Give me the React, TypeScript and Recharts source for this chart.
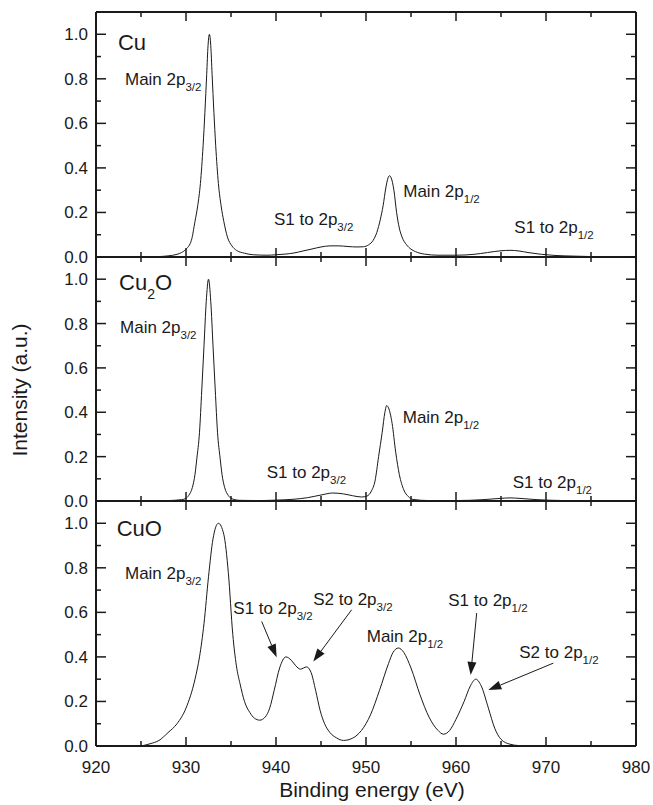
import { LineChart, Line, XAxis, YAxis, ReferenceDot, ReferenceLine } from "recharts";

const xTicks = [920, 930, 940, 950, 960, 970, 980];
const xMinor = [925, 935, 945, 955, 965, 975];
const yTicks = [0, 0.2, 0.4, 0.6, 0.8, 1.0];
const yMinor = [0.1, 0.3, 0.5, 0.7, 0.9];

// Cu
const cuEnergy = [925, 927, 928, 929, 929.5, 930, 930.6, 931, 931.3, 931.6, 931.9, 932.1, 932.3, 932.45, 932.6, 932.75, 932.9, 933.1, 933.3, 933.6, 933.9, 934.2, 934.6, 935.1, 935.6, 936.5, 937.5, 939, 940, 941, 942, 943, 944, 945, 946, 947, 948, 949, 949.7, 950.3, 950.8, 951.2, 951.6, 951.9, 952.2, 952.45, 952.6, 952.8, 953.1, 953.4, 953.7, 954, 954.5, 955, 955.5, 956.5, 958, 960, 962, 963.5, 965, 966, 967, 968, 969.5, 971, 973, 975, 976];
const cuIntensity = [0, 0.002, 0.005, 0.012, 0.02, 0.035, 0.075, 0.16, 0.23, 0.33, 0.5, 0.65, 0.82, 0.95, 1.0, 0.95, 0.82, 0.65, 0.5, 0.33, 0.23, 0.16, 0.09, 0.05, 0.03, 0.017, 0.01, 0.008, 0.01, 0.013, 0.018, 0.027, 0.036, 0.045, 0.05, 0.05, 0.047, 0.045, 0.046, 0.055, 0.075, 0.11, 0.17, 0.23, 0.31, 0.355, 0.365, 0.355, 0.3, 0.2, 0.13, 0.09, 0.055, 0.035, 0.024, 0.013, 0.008, 0.008, 0.012, 0.02, 0.028, 0.03, 0.027, 0.02, 0.012, 0.007, 0.004, 0.002, 0.001];

// Cu2O
const cu2oEnergy = [925, 928, 929.5, 929.9, 930.3, 930.7, 931, 931.2, 931.5, 931.75, 932, 932.25, 932.5, 932.75, 933, 933.25, 933.5, 933.8, 934, 934.3, 934.7, 935.1, 936, 938, 940, 942, 943.5, 945, 946.3, 947.5, 948.5, 949.5, 950.1, 950.6, 951, 951.4, 951.8, 952.1, 952.3, 952.5, 952.9, 953.3, 953.7, 954.2, 954.7, 955.2, 957, 960, 963, 965, 966, 967, 969, 972, 975];
const cu2oIntensity = [0, 0.002, 0.006, 0.01, 0.025, 0.06, 0.12, 0.19, 0.31, 0.5, 0.7, 0.9, 1.0, 0.9, 0.7, 0.5, 0.31, 0.19, 0.12, 0.06, 0.025, 0.01, 0.003, 0.002, 0.004, 0.008, 0.015, 0.027, 0.036, 0.032, 0.024, 0.018, 0.022, 0.045, 0.09, 0.2, 0.31, 0.4, 0.43, 0.42, 0.35, 0.22, 0.12, 0.05, 0.02, 0.007, 0.002, 0.002, 0.006, 0.012, 0.014, 0.012, 0.006, 0.002, 0];

// CuO
const cuoEnergy = [925, 926, 927, 928, 929, 930, 931, 931.5, 932, 932.5, 933, 933.6, 934.2, 934.7, 935.2, 935.6, 936, 936.5, 937.1, 937.6, 938.2, 938.8, 939.3, 939.8, 940.4, 941.1, 941.7, 942.2, 942.7, 943.4, 943.9, 944.4, 944.9, 945.4, 946, 946.7, 947.5, 948.5, 949.5, 950.5, 951.5, 952.5, 953, 953.6, 954.2, 955, 956, 957, 958, 958.6, 959.3, 960, 960.9, 961.6, 962.2, 962.8, 963.6, 964.3, 965, 966, 967, 970, 975];
const cuoIntensity = [0, 0.01, 0.025, 0.06, 0.1, 0.17, 0.3, 0.4, 0.55, 0.76, 0.93, 1.0, 0.95, 0.78, 0.5, 0.36, 0.28, 0.2, 0.15, 0.125, 0.116, 0.13, 0.17, 0.25, 0.35, 0.4, 0.385, 0.36, 0.345, 0.355, 0.33, 0.25, 0.16, 0.1, 0.06, 0.037, 0.025, 0.035, 0.07, 0.14, 0.25, 0.37, 0.42, 0.44, 0.42, 0.35, 0.23, 0.13, 0.07, 0.053, 0.07, 0.12, 0.2, 0.27, 0.3, 0.27, 0.17, 0.08, 0.03, 0.008, 0.002, 0, 0];

type Note = { e: number; v: number; text: string; sub?: string; tail?: string; big?: boolean };
type Arrow = { from: [number, number]; to: [number, number] };

const cuNotes: Note[] = [
  { e: 922.44, v: 0.93, text: "Cu", big: true },
  { e: 923.22, v: 0.773, text: "Main 2p", sub: "3/2" },
  { e: 939.78, v: 0.144, text: "S1 to 2p", sub: "3/2" },
  { e: 954.14, v: 0.27, text: "Main 2p", sub: "1/2" },
  { e: 966.48, v: 0.107, text: "S1 to 2p", sub: "1/2" },
];
const cu2oNotes: Note[] = [
  { e: 922.56, v: 0.952, text: "Cu", sub: "2", tail: "O", big: true },
  { e: 922.67, v: 0.759, text: "Main 2p", sub: "3/2" },
  { e: 938.97, v: 0.104, text: "S1 to 2p", sub: "3/2" },
  { e: 954.08, v: 0.35, text: "Main 2p", sub: "1/2" },
  { e: 966.3, v: 0.06, text: "S1 to 2p", sub: "1/2" },
];
const cuoNotes: Note[] = [
  { e: 922.3, v: 0.943, text: "CuO", big: true },
  { e: 923.22, v: 0.752, text: "Main 2p", sub: "3/2" },
  { e: 935.26, v: 0.594, text: "S1 to 2p", sub: "3/2" },
  { e: 944.14, v: 0.635, text: "S2 to 2p", sub: "3/2" },
  { e: 950.08, v: 0.469, text: "Main 2p", sub: "1/2" },
  { e: 959.14, v: 0.627, text: "S1 to 2p", sub: "1/2" },
  { e: 967.03, v: 0.394, text: "S2 to 2p", sub: "1/2" },
];
const cuoArrows: Arrow[] = [
  { from: [938.41, 0.559], to: [940.07, 0.399] },
  { from: [948.41, 0.612], to: [944.14, 0.379] },
  { from: [962.3, 0.597], to: [961.63, 0.319] },
  { from: [970.81, 0.372], to: [963.59, 0.251] },
];

const INK = "#1a1a1a";
const frame = { stroke: INK, strokeWidth: 2 };
const tickLn = { stroke: INK, strokeWidth: 1.5 };
const THIN = 0.01; // tick-only axes need a non-zero size to be drawn

const NoLabel = () => <g />;

function noteShape(n: Note) {
  return (p: any) => {
    const size = n.big ? 22 : 17;
    const subSize = n.big ? 14 : 11.5;
    const dy = n.big ? 9 : 6;
    return (
      <text x={p.cx} y={p.cy} fontSize={size} fill={INK}>
        {n.text}
        {n.sub && <tspan fontSize={subSize} dy={dy}>{n.sub}</tspan>}
        {n.tail && <tspan fontSize={size} dy={-dy}>{n.tail}</tspan>}
      </text>
    );
  };
}

function arrowShape(p: any) {
  const { x1, y1, x2, y2 } = p;
  const dx = x2 - x1;
  const dy = y2 - y1;
  const len = Math.sqrt(dx * dx + dy * dy);
  const ux = dx / len;
  const uy = dy / len;
  const bx = x2 - ux * 13;
  const by = y2 - uy * 13;
  const nx = -uy * 4.5;
  const ny = ux * 4.5;
  return (
    <g>
      <line x1={x1} y1={y1} x2={bx} y2={by} stroke={INK} strokeWidth={1} />
      <polygon points={`${x2},${y2} ${bx + nx},${by + ny} ${bx - nx},${by - ny}`} fill={INK} />
    </g>
  );
}

function Panel({ top, height, marginTop, bottomH, energy, intensity, notes, arrows = [], showX }: {
  top: number; height: number; marginTop: number; bottomH: number;
  energy: number[]; intensity: number[]; notes: Note[]; arrows?: Arrow[]; showX: boolean;
}) {
  const rows = energy.map((e, i) => ({ e, v: intensity[i] }));
  const xc = { dataKey: "e", type: "number" as const, domain: [920, 980], interval: 0 as const, allowDataOverflow: true };
  const yc = { type: "number" as const, domain: [0, 1.1], interval: 0 as const, allowDataOverflow: true };
  // tick-only axes are mirrored so their marks point into the plot
  const inner = { mirror: true, tick: NoLabel, axisLine: false as const, tickLine: tickLn };
  return (
    <div style={{ position: "absolute", left: 0, top }}>
      <LineChart width={653} height={height} data={rows} margin={{ top: marginTop, right: 17, bottom: 0, left: 0 }}>
        <XAxis {...xc} ticks={xTicks} height={bottomH} tickSize={0} tickMargin={15}
          tick={showX ? { fill: INK, fontSize: 17 } : false} axisLine={frame} tickLine={false} />
        <XAxis {...xc} {...inner} xAxisId="bM" ticks={xTicks} height={THIN} tickSize={9} />
        <XAxis {...xc} {...inner} xAxisId="bm" ticks={xMinor} height={THIN} tickSize={5} />
        <XAxis {...xc} {...inner} xAxisId="tM" orientation="top" ticks={xTicks} height={THIN} tickSize={9} axisLine={frame} />
        <XAxis {...xc} {...inner} xAxisId="tm" orientation="top" ticks={xMinor} height={THIN} tickSize={5} />
        <YAxis {...yc} ticks={yTicks} width={96} tickSize={0} tickMargin={8}
          tickFormatter={(v: number) => v.toFixed(1)} tick={{ fill: INK, fontSize: 17 }} axisLine={frame} tickLine={false} />
        <YAxis {...yc} {...inner} yAxisId="lM" ticks={yTicks} width={THIN} tickSize={10} />
        <YAxis {...yc} {...inner} yAxisId="lm" ticks={yMinor} width={THIN} tickSize={5} />
        <YAxis {...yc} {...inner} yAxisId="rM" orientation="right" ticks={yTicks} width={THIN} tickSize={10} axisLine={frame} />
        <YAxis {...yc} {...inner} yAxisId="rm" orientation="right" ticks={yMinor} width={THIN} tickSize={5} />
        <Line dataKey="v" type="monotone" stroke={INK} strokeWidth={1} dot={false} isAnimationActive={false} />
        {notes.map((n, i) => (
          <ReferenceDot key={"n" + i} x={n.e} y={n.v} r={0} ifOverflow="visible" shape={noteShape(n)} />
        ))}
        {arrows.map((a, i) => (
          <ReferenceLine key={"a" + i} segment={[{ x: a.from[0], y: a.from[1] }, { x: a.to[0], y: a.to[1] }]}
            ifOverflow="visible" shape={arrowShape} />
        ))}
      </LineChart>
    </div>
  );
}

export default function App() {
  return (
    <div style={{ position: "absolute", left: 0, top: 0, width: 653, height: 805, background: "#fff",
      fontFamily: "'Liberation Sans', Arial, Helvetica, sans-serif" }}>
      <Panel top={0} height={270} marginTop={12} bottomH={13} energy={cuEnergy} intensity={cuIntensity} notes={cuNotes} showX={false} />
      <Panel top={257} height={258} marginTop={0} bottomH={14} energy={cu2oEnergy} intensity={cu2oIntensity} notes={cu2oNotes} showX={false} />
      <Panel top={501} height={304} marginTop={0} bottomH={59} energy={cuoEnergy} intensity={cuoIntensity} notes={cuoNotes} arrows={cuoArrows} showX={true} />
      <svg width={653} height={805} style={{ position: "absolute", left: 0, top: 0, pointerEvents: "none" }}>
        <text x={27} y={390} fontSize={21} fill={INK} textAnchor="middle" transform="rotate(-90 27 390)">Intensity (a.u.)</text>
        <text x={372} y={797} fontSize={21} fill={INK} textAnchor="middle">Binding energy (eV)</text>
      </svg>
    </div>
  );
}
